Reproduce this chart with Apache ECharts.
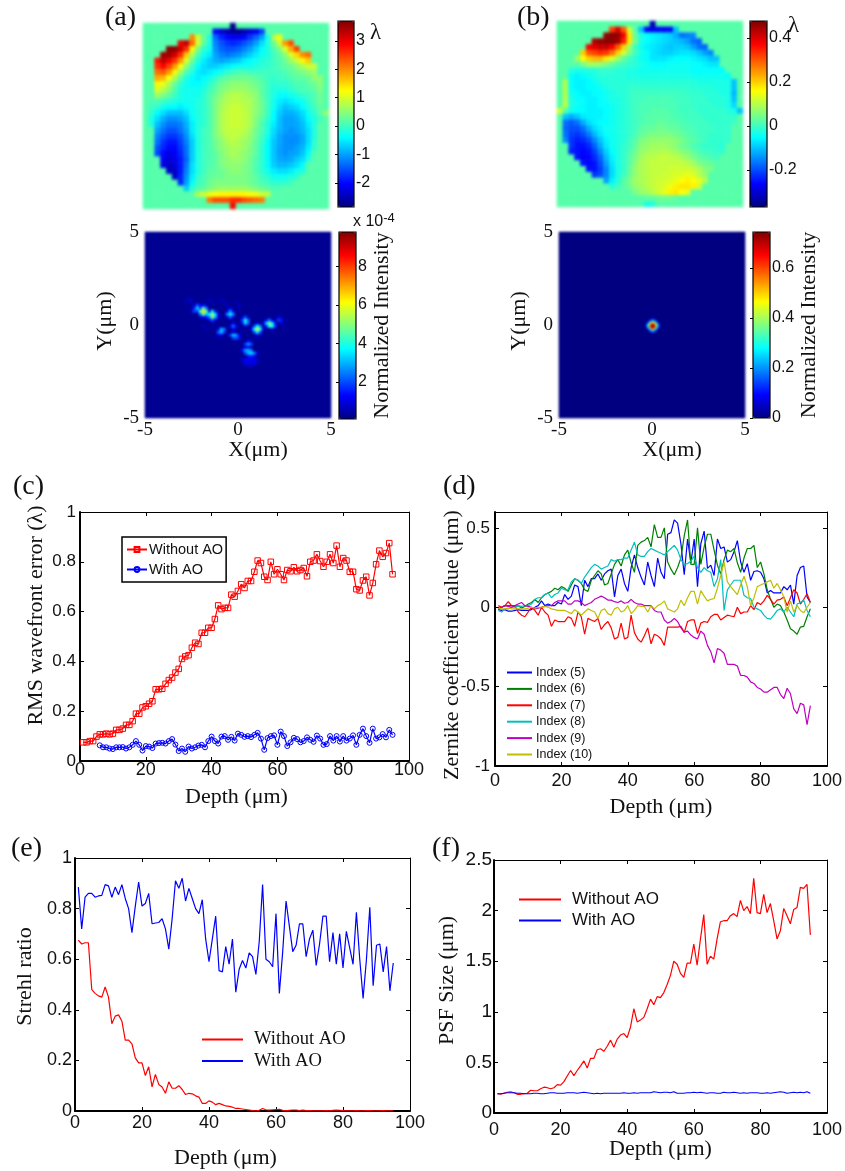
<!DOCTYPE html>
<html><head><meta charset="utf-8">
<style>html,body{margin:0;padding:0;background:#fff}#c{width:845px;height:1171px}</style>
<script src="https://cdn.jsdelivr.net/npm/echarts@6/dist/echarts.min.js"></script>
</head><body><div id="c"></div>
<script>
const depths=[1,2,3,4,5,6,7,8,9,10,11,12,13,14,15,16,17,18,19,20,21,22,23,24,25,26,27,28,29,30,31,32,33,34,35,36,37,38,39,40,41,42,43,44,45,46,47,48,49,50,51,52,53,54,55,56,57,58,59,60,61,62,63,64,65,66,67,68,69,70,71,72,73,74,75,76,77,78,79,80,81,82,83,84,85,86,87,88,89,90,91,92,93,94,95];
const depthsWithAoC=depths.slice(5);
const rmsWithout=[.075,.075,.08,.08,.098,.107,.107,.11,.107,.11,.125,.125,.13,.145,.145,.16,.19,.19,.215,.22,.23,.24,.288,.288,.29,.31,.325,.335,.355,.37,.41,.42,.425,.455,.475,.47,.515,.515,.535,.535,.57,.625,.61,.615,.615,.668,.66,.683,.71,.695,.723,.723,.76,.805,.795,.74,.727,.8,.75,.77,.75,.727,.767,.762,.778,.762,.767,.775,.742,.8,.805,.83,.803,.78,.8,.83,.795,.865,.78,.815,.805,.76,.76,.69,.685,.725,.74,.665,.715,.79,.845,.82,.835,.875,.75];
const rmsWith=[.063,.055,.055,.05,.048,.055,.055,.056,.05,.055,.065,.08,.065,.042,.06,.058,.052,.07,.072,.073,.07,.08,.088,.066,.04,.05,.037,.058,.05,.055,.062,.065,.055,.08,.098,.08,.07,.098,.1,.085,.097,.082,.11,.105,.097,.1,.096,.105,.113,.09,.045,.092,.1,.103,.065,.118,.1,.06,.075,.093,.088,.075,.08,.095,.085,.077,.102,.09,.065,.068,.1,.082,.1,.078,.1,.082,.09,.103,.065,.105,.13,.1,.073,.13,.09,.095,.108,.095,.125,.105];
const zern5=[-.015,-.02,-.015,-.025,-.025,-.02,-.015,-.02,-.02,-.02,-.015,0,.01,.04,.01,.02,.01,.01,.03,.02,.08,.05,.07,.14,.13,.01,.17,.13,.18,.18,.21,.17,.21,.23,.24,.065,.2,.24,.15,.1,.25,.33,.25,.19,.14,.285,.2,.13,.31,.22,.18,.46,.47,.55,.53,.4,.205,.43,.28,.43,.13,.4,.48,.245,.265,.2,.43,.37,.38,.285,.3,.35,.42,.285,.22,.275,.17,.225,.23,.22,.18,.09,.105,.09,.09,.09,.13,.11,.14,.02,.2,.25,.26,.065,.03];
const zern6=[-.01,0,.01,.01,.01,.005,.01,-.005,.005,.02,.03,.05,.03,.06,.08,.09,.1,.12,.11,.13,.12,.1,.14,.18,.17,.15,.11,.1,.17,.2,.23,.21,.14,.15,.21,.27,.3,.26,.33,.36,.28,.22,.39,.41,.42,.44,.38,.52,.44,.44,.5,.285,.24,.205,.25,.31,.45,.55,.27,.27,.5,.27,.38,.46,.46,.36,.265,.21,.3,.36,.35,.37,.28,.22,.31,.37,.37,.39,.25,.285,.21,.11,.05,0,.02,.01,-.03,-.08,-.135,-.15,-.17,-.125,-.12,-.06,-.01];
const zern7=[.01,0,.01,.035,.01,.01,-.03,-.05,-.06,-.03,0,-.02,-.05,0,-.03,-.05,-.12,-.08,-.09,-.09,-.09,-.06,-.07,-.12,-.03,-.06,-.17,-.07,-.08,-.09,-.07,-.14,-.11,-.09,-.13,-.2,-.19,-.1,-.2,-.19,-.05,-.16,-.2,-.22,-.18,-.13,-.23,-.17,-.18,-.2,-.24,-.125,-.125,-.125,-.125,-.12,-.16,-.09,-.08,-.08,-.165,-.1,-.09,-.095,-.06,-.045,-.045,-.08,-.065,-.05,-.055,-.06,0,-.04,-.03,-.03,.01,-.015,.03,.017,.04,.075,.05,.02,.045,.05,.065,.01,.06,.11,.09,.02,.05,.085,.03];
const zern8=[-.02,-.03,-.01,-.01,0,0,.01,.005,.01,.01,.02,.05,.06,.06,.08,.09,.06,.08,.09,.12,.11,.11,.16,.18,.17,.15,.19,.22,.25,.27,.26,.24,.25,.26,.3,.29,.3,.3,.31,.31,.36,.41,.33,.32,.32,.35,.37,.36,.35,.34,.33,.35,.37,.39,.36,.3,.27,.275,.29,.32,.25,.22,.25,.23,.22,.13,.18,.3,-.02,.11,.14,.17,.17,.17,.075,.06,.055,0,-.01,-.02,-.05,-.07,-.075,-.05,-.02,-.01,-.03,0,-.03,-.06,.02,.03,.045,-.02,-.06];
const zern9=[-.01,0,.01,.005,0,.01,.02,.03,.01,.005,0,-.01,-.005,0,.005,.01,.01,.03,.04,.04,.04,.02,.02,.04,.04,.03,.01,.02,.03,.05,.06,.07,.06,.045,.045,.035,.03,.04,.025,.03,.05,.03,.02,.02,.01,.01,.01,-.02,-.03,-.03,-.08,-.1,-.09,-.07,-.09,-.13,-.155,-.15,-.175,-.19,-.2,-.15,-.17,-.24,-.28,-.35,-.26,-.27,-.29,-.36,-.36,-.36,-.37,-.43,-.43,-.44,-.47,-.48,-.505,-.515,-.535,-.535,-.52,-.505,-.505,-.55,-.575,-.51,-.545,-.64,-.67,-.605,-.615,-.74,-.62];
const zern10=[-.005,-.01,-.01,-.005,-.01,-.01,-.01,-.01,-.01,-.005,0,-.005,0,0,.005,0,-.01,-.015,-.02,-.02,-.02,-.03,-.04,-.015,-.03,-.05,-.03,-.01,-.02,-.03,-.07,-.02,-.01,-.04,-.05,-.01,0,-.03,-.02,.01,-.04,-.02,.01,.005,.005,-.03,.01,-.01,.01,.02,.04,-.01,-.02,-.03,-.01,.045,.01,.06,.1,.1,.02,.105,.07,.04,.05,.055,.12,.2,.285,.16,.13,.105,.08,.14,.195,.13,.01,.06,.13,.14,.15,.16,.17,.12,.15,.11,.065,-.03,.04,-.03,.01,-.02,-.035,0,.03];
const strehlWithout=[.675,.66,.665,.665,.48,.465,.455,.45,.49,.45,.345,.375,.38,.355,.28,.28,.265,.21,.19,.19,.14,.175,.095,.145,.105,.095,.07,.115,.09,.09,.1,.085,.065,.07,.068,.06,.055,.03,.03,.04,.035,.025,.03,.025,.02,.018,.015,.01,.01,.008,.006,.004,.002,.001,.003,.01,.005,.004,.005,.006,.007,.003,.001,.003,.004,.004,.002,.004,.002,.002,.001,.001,.001,.001,.002,.001,.003,.004,.003,.002,.001,.001,.001,.002,.001,.001,.002,.002,.001,.001,.001,.002,.001,.001,.001];
const strehlWith=[.885,.72,.845,.86,.86,.845,.85,.852,.895,.89,.845,.885,.855,.895,.84,.8,.705,.81,.905,.81,.82,.86,.74,.743,.745,.76,.72,.64,.76,.91,.88,.92,.83,.88,.84,.8,.78,.835,.68,.59,.68,.77,.555,.55,.65,.58,.68,.47,.56,.595,.565,.625,.61,.54,.67,.895,.6,.59,.57,.78,.465,.63,.83,.73,.63,.655,.74,.74,.61,.68,.715,.575,.66,.77,.77,.59,.705,.58,.7,.565,.71,.645,.58,.785,.6,.445,.6,.805,.495,.655,.66,.55,.65,.475,.585];
const psfWithout=[.19,.185,.195,.205,.21,.2,.185,.185,.19,.195,.225,.22,.22,.24,.255,.25,.24,.25,.28,.275,.31,.365,.42,.37,.42,.465,.515,.445,.54,.54,.625,.635,.61,.66,.72,.65,.73,.77,.785,.745,.85,1.03,.9,.92,.945,1.03,1.125,1.07,1.15,1.14,1.19,1.27,1.36,1.5,1.47,1.38,1.34,1.48,1.48,1.67,1.46,1.72,1.96,1.47,1.55,1.52,1.72,1.89,1.9,1.9,1.95,1.97,1.94,2.1,2,2.04,1.97,2.32,1.98,1.97,2.16,1.98,2.07,1.9,1.72,1.8,2.02,1.95,1.87,2.01,2.03,2.23,2.22,2.26,1.76];
const psfWith=[.19,.19,.195,.2,.2,.2,.195,.195,.19,.19,.19,.195,.195,.19,.19,.195,.2,.2,.195,.195,.195,.2,.2,.2,.195,.2,.205,.2,.195,.19,.195,.19,.195,.195,.195,.195,.195,.195,.2,.195,.195,.2,.195,.2,.2,.2,.2,.21,.205,.2,.205,.205,.2,.21,.195,.195,.195,.2,.2,.205,.2,.205,.2,.195,.2,.2,.195,.195,.205,.2,.2,.205,.2,.195,.2,.195,.2,.2,.2,.195,.195,.2,.195,.2,.205,.21,.205,.195,.2,.205,.2,.205,.2,.21,.195];

// Wavefront maps: each row is [first column, values]; cells not listed are the flat surround.
const waveABackground=.15;
const waveARows=[
[15,[-2.8]],
[12,[-2,-2.3,-2.5,-2.7,-2.7,-2.5,-2.3,-2.1,-1.6]],
[8,[2,.9,.3,-.2,-1.4,-1.8,-2,-2.1,-2.1,-2,-1.7,-1.4,-1,-.3,.7,1.2]],
[6,[3,3.3,2.2,1,.2,-.2,-1.2,-1.5,-1.7,-1.8,-1.7,-1.5,-1.3,-1,-.6,-.2,.3,.9,1.9,2.4]],
[4,[3.6,3.6,3.2,2.6,1.3,.4,-.1,-.3,-1.1,-1.4,-1.5,-1.5,-1.4,-1.2,-1,-.7,-.4,-.2,.1,.4,1,1.8,2.5]],
[3,[3.5,3.5,3.2,2.6,1.6,.7,.1,-.3,-.5,-1,-1.2,-1.3,-1.2,-1.1,-.9,-.7,-.5,-.3,-.2,0,.2,.5,1,1.5,2,2.2]],
[2,[2.8,3.3,3,2.6,1.9,1,.3,-.2,-.5,-.7,-.9,-1,-.9,-.8,-.7,-.5,-.4,-.3,-.2,-.1,0,.1,.3,.6,.9,1.3,1.6]],
[2,[2.6,2.9,2.5,1.9,1.2,.5,0,-.4,-.6,-.7,-.7,-.6,-.5,-.4,-.3,-.3,-.3,-.2,-.1,-.1,0,.1,.2,.3,.5,.7,.9,.9]],
[2,[2.2,2.3,1.9,1.3,.6,.1,-.2,-.5,-.6,-.5,-.4,-.3,-.1,0,.1,.1,0,0,0,0,0,0,.1,.2,.3,.4,.5,.6]],
[2,[1.8,1.7,1.2,.7,.2,-.2,-.4,-.5,-.4,-.3,-.1,.1,.2,.3,.3,.3,.3,.2,.1,0,-.1,0,0,.1,.2,.2,.3,.5,.5]],
[2,[1.3,1.1,.7,.3,-.1,-.3,-.4,-.4,-.3,-.1,.1,.3,.4,.5,.5,.5,.4,.3,.2,0,-.1,-.1,-.1,0,.1,.1,.2,.3,.5]],
[2,[1,.8,.5,.1,-.2,-.3,-.3,-.3,-.2,0,.2,.4,.5,.6,.6,.6,.5,.4,.2,0,-.2,-.2,-.2,-.1,0,.1,.1,.2,.4]],
[2,[.6,.4,.2,0,-.2,-.3,-.3,-.3,-.1,.1,.3,.5,.7,.8,.8,.7,.6,.5,.2,0,-.2,-.4,-.4,-.3,-.2,-.1,0,.1,.3]],
[1,[.1,.1,0,-.1,-.2,-.3,-.3,-.3,-.2,-.1,.1,.4,.6,.75,.8,.8,.75,.7,.5,.3,0,-.3,-.5,-.6,-.5,-.4,-.3,-.1,.1,.3]],
[1,[0,-.1,-.3,-.4,-.4,-.5,-.4,-.3,-.2,-.1,.1,.4,.65,.8,.9,.9,.8,.7,.5,.3,0,-.3,-.6,-.8,-.7,-.6,-.4,-.2,0,.2]],
[1,[-.1,-.4,-.6,-.8,-.8,-.8,-.6,-.3,-.2,-.1,.1,.4,.7,.85,.9,.9,.85,.7,.5,.3,0,-.4,-.7,-.9,-.9,-.8,-.6,-.3,-.1,.2,.5]],
[1,[-.2,-.6,-.9,-1.1,-1.1,-1,-.8,-.4,-.2,-.1,.1,.4,.7,.85,.9,.9,.85,.7,.4,.2,-.1,-.4,-.8,-1,-1,-.9,-.7,-.4,-.2,0]],
[1,[-.2,-.8,-1.1,-1.3,-1.3,-1.2,-.9,-.5,-.2,-.1,.1,.4,.7,.85,.9,.9,.85,.7,.4,.1,-.2,-.5,-.8,-1,-1,-.95,-.8,-.5,-.2]],
[2,[-1,-1.3,-1.5,-1.5,-1.3,-1,-.5,-.2,0,.1,.4,.7,.85,.85,.85,.8,.6,.3,.1,-.2,-.6,-.85,-1,-1.1,-1,-.85,-.6,-.2]],
[2,[-1.2,-1.5,-1.7,-1.7,-1.5,-1.1,-.6,-.2,0,.1,.4,.6,.8,.85,.8,.7,.5,.3,0,-.3,-.65,-.95,-1.1,-1.1,-1.1,-.95,-.6,-.2]],
[2,[-1.3,-1.7,-1.9,-1.9,-1.6,-1.2,-.7,-.2,0,.1,.3,.5,.7,.8,.7,.6,.5,.2,0,-.4,-.75,-.95,-1.1,-1.15,-1.1,-.95,-.6,-.1]],
[2,[-1.5,-1.8,-2,-2,-1.7,-1.3,-.7,-.2,0,.1,.3,.5,.6,.7,.7,.6,.4,.2,-.1,-.4,-.75,-1,-1.1,-1.1,-1,-.85,-.5,-.1]],
[2,[-1.6,-2,-2.2,-2.1,-1.8,-1.3,-.7,-.2,0,.1,.2,.4,.6,.7,.6,.5,.4,.2,-.1,-.4,-.75,-1,-1.1,-1,-.95,-.75,-.4]],
[3,[-2.1,-2.3,-2.2,-1.9,-1.4,-.7,-.2,0,.1,.2,.4,.5,.6,.6,.5,.3,.1,-.1,-.4,-.75,-.95,-1,-.95,-.75,-.6,-.2]],
[3,[-2.2,-2.4,-2.3,-1.9,-1.3,-.6,-.2,0,.1,.2,.4,.5,.5,.5,.4,.3,.1,-.1,-.4,-.7,-.85,-.85,-.75,-.6,-.4]],
[4,[-2.4,-2.4,-1.9,-1.2,-.6,-.2,0,.2,.2,.3,.4,.5,.5,.4,.3,.1,-.1,-.3,-.5,-.6,-.6,-.5,-.3,-.2]],
[5,[-2.4,-1.8,-1.1,-.5,-.1,.1,.2,.3,.3,.4,.4,.4,.4,.3,.2,0,-.1,-.3,-.3,-.3,-.2,-.1]],
[6,[-1.8,-1,-.4,0,.1,.3,.4,.4,.4,.4,.4,.4,.3,.2,.1,0,-.1,-.1,-.1,0]],
[7,[-.7,-.1,.1,.2,.4,.5,.6,.6,.6,.6,.6,.5,.4,.3,.2,.1,.1]],
[9,[.7,.9,1.1,1.2,1.3,1.3,1.3,1.3,1.3,1.2,1.1,.9,.8]],
[11,[2.1,2.4,2.4,2.4,2.6,2.6,2.4,2.3,2.2,2.1]],
[15,[2.9]]
];
const waveBBackground=.02;
const waveBRows=[
[16,[-.33]],
[9,[.32,.4,.3,.12,.02,-.1,-.26,-.28,-.27,-.27,-.26,-.1]],
[8,[.46,.47,.46,.38,.18,.03,-.03,-.05,-.06,-.07,-.08,-.09,-.12,-.17,-.16,-.15]],
[6,[.44,.46,.47,.47,.45,.35,.18,.04,-.03,-.05,-.06,-.07,-.08,-.09,-.1,-.11,-.13,-.17,-.18]],
[5,[.38,.4,.42,.42,.38,.3,.2,.08,0,-.04,-.06,-.07,-.08,-.09,-.1,-.09,-.09,-.1,-.13,-.17,-.18]],
[4,[.2,.3,.32,.34,.33,.28,.2,.12,.05,0,-.03,-.05,-.07,-.08,-.09,-.09,-.08,-.07,-.07,-.08,-.1,-.13,-.15]],
[3,[.08,.15,.2,.22,.22,.18,.13,.08,.03,0,-.02,-.04,-.05,-.07,-.07,-.07,-.06,-.05,-.05,-.05,-.06,-.07,-.08,-.1,-.1]],
[3,[.02,.05,.08,.08,.07,.05,.03,.01,0,-.01,-.02,-.03,-.04,-.05,-.05,-.05,-.04,-.04,-.04,-.04,-.05,-.05,-.06,-.07,-.07]],
[2,[-.02,-.03,-.03,-.02,-.02,-.01,-.01,-.01,-.02,-.02,-.03,-.03,-.04,-.04,-.04,-.04,-.04,-.04,-.04,-.04,-.04,-.05,-.05,-.05,-.05,-.05,-.05]],
[2,[-.05,-.06,-.05,-.04,-.03,-.02,-.02,-.02,-.02,-.02,-.03,-.03,-.03,-.03,-.03,-.03,-.03,-.03,-.03,-.03,-.03,-.04,-.04,-.04,-.04,-.04,-.04,-.05]],
[1,[.09,-.05,-.06,-.06,-.05,-.04,-.03,-.02,-.02,-.02,-.02,-.02,-.02,-.02,-.02,-.02,-.02,-.02,-.02,-.02,-.02,-.02,-.02,-.03,-.03,-.03,-.03,-.03,-.03,-.1]],
[1,[.09,-.05,-.06,-.06,-.05,-.05,-.04,-.03,-.02,-.02,-.02,-.01,-.01,-.01,-.01,-.01,-.01,-.01,-.01,-.01,-.01,-.01,-.02,-.02,-.02,-.02,-.03,-.03,-.03,-.1]],
[1,[.09,-.04,-.05,-.06,-.06,-.05,-.05,-.04,-.03,-.02,-.02,-.01,0,0,0,0,0,0,0,0,0,-.01,-.01,-.01,-.02,-.02,-.02,-.03,-.03,-.11]],
[1,[.09,-.03,-.05,-.05,-.06,-.06,-.05,-.04,-.03,-.03,-.02,-.01,0,0,.01,.01,.01,.01,.01,0,0,0,-.01,-.01,-.01,-.02,-.02,-.02,-.03,-.1]],
[0,[.02,.1,-.03,-.04,-.05,-.06,-.06,-.05,-.05,-.04,-.03,-.02,-.01,0,.01,.01,.01,.01,.01,.01,.01,0,0,-.01,-.01,-.01,-.01,-.02,-.02,-.03,-.08]],
[0,[.12,.02,-.04,-.05,-.05,-.06,-.06,-.06,-.05,-.04,-.03,-.02,-.01,0,.01,.01,.02,.02,.02,.01,.01,0,0,0,-.01,-.01,-.01,-.01,-.01,-.02,-.03,-.1]],
[1,[-.1,-.12,-.1,-.07,-.06,-.06,-.06,-.05,-.04,-.03,-.02,-.01,0,.01,.02,.02,.02,.02,.02,.01,.01,0,0,0,-.01,-.01,-.01,-.01,-.01,-.01]],
[1,[-.17,-.19,-.17,-.12,-.08,-.06,-.05,-.05,-.04,-.03,-.02,-.01,0,.01,.02,.02,.03,.03,.02,.02,.01,.01,0,0,0,-.01,-.01,-.01,-.01,0]],
[1,[-.18,-.2,-.2,-.17,-.12,-.08,-.06,-.04,-.04,-.03,-.02,-.01,0,.02,.03,.03,.04,.04,.03,.03,.02,.01,.01,0,0,0,-.01,-.01,-.01]],
[1,[-.17,-.21,-.22,-.2,-.16,-.11,-.07,-.05,-.04,-.03,-.02,-.01,.01,.03,.04,.05,.05,.05,.05,.04,.03,.02,.01,0,0,-.01,-.01,-.01,-.01]],
[1,[-.15,-.22,-.24,-.23,-.2,-.15,-.1,-.06,-.04,-.03,-.02,0,.02,.05,.06,.07,.07,.07,.07,.06,.05,.03,.02,.01,0,-.01,-.01,-.01,-.01]],
[2,[-.22,-.25,-.25,-.23,-.18,-.12,-.07,-.04,-.03,-.01,0,.03,.06,.07,.08,.08,.08,.07,.06,.04,.03,.01,0,-.01,-.01,-.01,-.02]],
[2,[-.24,-.25,-.26,-.25,-.21,-.15,-.09,-.05,-.03,-.01,.01,.04,.07,.08,.09,.09,.1,.09,.08,.06,.05,.03,.01,0,0,-.01,-.01]],
[3,[-.25,-.27,-.26,-.23,-.18,-.11,-.06,-.03,-.01,.02,.05,.08,.1,.1,.11,.11,.11,.1,.09,.07,.05,.03,.02,.01,0]],
[4,[-.25,-.26,-.25,-.2,-.13,-.07,-.03,-.01,.02,.06,.09,.1,.11,.11,.11,.11,.11,.11,.1,.08,.05,.04,.03]],
[5,[-.25,-.25,-.21,-.15,-.08,-.03,-.01,.03,.07,.09,.1,.11,.11,.11,.12,.12,.12,.12,.11,.09,.06,.05]],
[6,[-.22,-.2,-.15,-.08,-.03,0,.03,.07,.09,.1,.11,.11,.12,.12,.13,.13,.14,.13,.1,.07]],
[8,[-.13,-.06,-.02,.02,.05,.08,.09,.1,.11,.12,.12,.13,.14,.16,.17,.16,.14,.1]],
[9,[-.02,0,.02,.04,.07,.08,.1,.11,.12,.13,.15,.17,.18,.18,.17,.12]],
[13,[.05,.07,.08,.1,.12,.14,.17,.18,.16,.14]],
[15,[.03,.03,.04,.04,.04,.03]],
[15,[-.03,-.02]]
];
// Intensity maps: [column, row from top, value]; all other cells hold the background level.
const psfABackground=.25;
const psfACells=[[19,26,6.4],[18,25,2],[19,25,4.5],[20,25,2.5],[18,26,4.5],[20,26,4.8],[18,27,2.5],[19,27,4.8],[20,27,3.2],[19,24,1.2],[20,24,.8],[18,28,.8],[19,28,1.4],[20,28,1.4],
[21,26,1.5],[22,26,3.4],[23,26,1.5],[21,27,3.6],[22,27,5.2],[23,27,3.6],[21,28,2.4],[22,28,5],[23,28,3],[22,29,2],[21,29,1],[23,29,1.2],[24,27,1],[24,28,1],
[16,25,1.6],[17,24,2],[17,25,3.4],[16,26,2],[18,24,1.2],[17,26,1.8],[16,24,.8],[15,26,.8],
[27,26,1.2],[28,26,2.6],[29,26,1.2],[27,27,2.6],[28,27,3.8],[29,27,2.6],[27,28,1],[28,28,2.2],[29,28,1],[28,25,1],
[32,29,1.8],[33,29,4],[34,29,2.2],[32,28,.8],[33,28,2],[34,28,.8],[33,30,3.4],[34,30,2.2],[32,30,1.4],[33,31,1],
[36,31,2],[37,31,3.8],[38,31,2.5],[36,32,3.8],[37,32,5.8],[38,32,4.2],[36,33,2],[37,33,3.6],[38,33,2],[35,32,1.2],[39,32,1.2],[37,30,1],[37,34,1.2],
[40,29,1.4],[41,29,2.4],[42,29,1.2],[40,30,3.2],[41,30,5],[42,30,3.6],[41,31,3.8],[42,31,4.2],[43,31,1.8],[40,31,1.6],[39,30,1],[43,30,1.4],[42,32,1.2],
[44,29,1.8],[45,29,1.5],[44,28,1],[45,30,1],[45,28,.7],
[24,33,2.2],[25,33,3.2],[26,33,1.8],[25,32,3],[26,32,2.4],[24,32,1.2],[25,34,1.2],[24,34,.8],
[28,31,1.2],[29,31,2.4],[30,31,1.2],[29,30,1.2],[29,32,1.2],
[28,34,1.8],[29,34,3.2],[30,34,2.8],[31,35,1.4],[29,35,1.8],[30,35,2],[31,34,1.2],[29,33,1],
[33,37,1.8],[34,37,2.8],[35,37,2],[34,36,1.4],[34,38,1.3],[35,36,.8],
[32,39,1.4],[33,39,2.8],[34,39,3],[35,39,2.4],[33,40,2],[34,40,3],[35,40,3.4],[36,40,2.6],[34,41,1.4],[35,41,1.6],[33,38,1],[37,40,1],[36,41,1],
[32,42,.7],[33,42,1],[34,42,1.1],[35,42,1.2],[36,42,1.1],[37,42,.8],[32,43,.7],[33,43,1],[34,43,1.1],[35,43,1.1],[36,43,1],[37,43,.7],[33,44,.7],[34,44,.8],[35,44,.8],[36,44,.7],
[14,22,.7],[15,23,.8],[15,22,.7],[21,22,.7],[22,23,.7],[25,22,.7],[26,23,.8],[27,24,.7],[30,23,.7],[31,24,.7],[19,31,.7],[20,32,.6],[38,34,.6],[13,23,.6],[24,23,.6],[31,25,.6],[46,31,.6],[47,29,.6],[22,31,.6],[32,33,.6]];
const psfBBackground=0;
const psfBCells=[[46,47,.74],[47,47,.74],[46,46,.7],[47,46,.7],[45,47,.58],[48,47,.56],[46,48,.58],[47,48,.56],[45,46,.52],[48,46,.5],[46,45,.52],[47,45,.5],[45,45,.3],[48,45,.3],[45,48,.3],[48,48,.3],[44,47,.26],[49,47,.24],[44,46,.26],[49,46,.24],[46,49,.26],[47,49,.24],[46,44,.22],[47,44,.22],[44,45,.12],[49,45,.12],[44,48,.12],[49,48,.12],[45,44,.12],[48,44,.12],[45,49,.12],[48,49,.12],[43,47,.05],[50,47,.05],[43,46,.05],[50,46,.05],[46,43,.05],[47,43,.05],[46,50,.05],[47,50,.05]];

const lambdaTicksA=[-2,-1,0,1,2,3];
const lambdaTicksB=[-.2,0,.2,.4];
const intensityTicksA=[2,4,6,8];
const intensityTicksB=[0,.2,.4,.6];
const zernikeTicks=[-1,-.5,0,.5];
const jet=['#000080','#0000ff','#0080ff','#00ffff','#80ff80','#ffff00','#ff8000','#ff0000','#800000'];

const SERIF='"Liberation Serif"',SANS='"Liberation Sans"';
const option={animation:false,backgroundColor:'#fff',grid:[],xAxis:[],yAxis:[],series:[],visualMap:[],legend:[],graphic:[]};
const R=(l,t,w,h)=>({left:l,top:t,width:w,height:h});

function rowsToCells(rows,bg,n){
  const out=[];
  for(let r=0;r<n;r++)for(let c=0;c<n;c++){
    const row=rows[r];let v=bg;
    if(row){const k=c-row[0];if(k>=0&&k<row[1].length)v=row[1][k];}
    out.push([c,r,v]);
  }
  return out;
}
function sparseToCells(cells,bg,n){
  const m=new Map(cells.map(a=>[a[0]+'_'+a[1],a[2]]));
  const out=[];
  for(let r=0;r<n;r++)for(let c=0;c<n;c++){
    const k=c+'_'+r;out.push([c,r,m.has(k)?m.get(k):bg]);
  }
  return out;
}
function heatPanel(rect,data,n,layer,axes){
  const g=option.grid.length;
  option.grid.push({...rect,show:false,containLabel:false});
  const idx=Array.from({length:n},(_,i)=>i);
  const xi=option.xAxis.length,yi=option.yAxis.length;
  option.xAxis.push({gridIndex:g,type:'category',data:idx,show:false});
  option.yAxis.push({gridIndex:g,type:'category',data:idx,inverse:true,show:false});
  const si=option.series.length;
  option.series.push({type:'heatmap',xAxisIndex:xi,yAxisIndex:yi,data,progressive:0,silent:true,zlevel:layer,itemStyle:{borderWidth:0}});
  if(axes){
    option.xAxis.push({gridIndex:g,type:'value',position:'bottom',min:-5,max:5,interval:5,z:5,
      axisLine:{show:false},axisTick:{show:false},splitLine:{show:false},
      axisLabel:{fontFamily:SERIF,fontSize:19,color:'#111',margin:3,hideOverlap:false},
      name:'X(μm)',nameLocation:'middle',nameGap:21,nameMoveOverlap:false,nameTextStyle:{fontFamily:SERIF,fontSize:22,color:'#111',padding:[0,0,0,40]}});
    option.yAxis.push({gridIndex:g,type:'value',position:'left',min:-5,max:5,interval:5,z:5,
      axisLine:{show:false},axisTick:{show:false},splitLine:{show:false},
      axisLabel:{fontFamily:SERIF,fontSize:19,color:'#111',margin:6,hideOverlap:false},
      name:'Y(μm)',nameLocation:'middle',nameGap:axes.yGap,nameMoveOverlap:false,nameTextStyle:{fontFamily:SERIF,fontSize:22,color:'#111',padding:[0,0,0,8]}});
  }
  return si;
}
function colorBar(rect,si,min,max,ticks,name,nameGap){
  option.visualMap.push({type:'continuous',seriesIndex:si,min,max,inRange:{color:jet},calculable:false,hoverLink:false,realtime:false,
    left:rect.left,top:rect.top,itemWidth:rect.width,itemHeight:rect.height,padding:0,z:1,text:null,showLabel:false});
  const g=option.grid.length;
  option.grid.push({...rect,show:true,backgroundColor:'transparent',borderColor:'#000',borderWidth:1.2,z:5});
  option.xAxis.push({gridIndex:g,type:'value',min:0,max:1,show:false});
  option.yAxis.push({gridIndex:g,type:'value',position:'right',min,max,z:6,
    axisLine:{show:false},splitLine:{show:false},
    axisTick:{show:true,inside:true,length:3,customValues:ticks,lineStyle:{color:'#000'}},
    axisLabel:{customValues:ticks,fontFamily:SANS,fontSize:16,color:'#111',margin:2,hideOverlap:false,
      formatter:v=>String(+(+v).toFixed(2))},
    name:name||'',nameLocation:'middle',nameRotate:90,nameGap:nameGap||24,nameMoveOverlap:false,
    nameTextStyle:{fontFamily:SERIF,fontSize:22,color:'#111'}});
}
function linePanel(o){
  const g=option.grid.length;
  option.grid.push({...o.rect,show:false});
  const xi=option.xAxis.length,yi=option.yAxis.length;
  const tick={show:true,inside:true,length:4,lineStyle:{color:'#000',width:1}};
  option.xAxis.push({gridIndex:g,type:'value',position:'bottom',min:0,max:100,interval:20,z:5,
    axisLine:{show:true,onZero:false,lineStyle:{color:'#000',width:2}},axisTick:tick,splitLine:{show:false},
    axisLabel:{fontFamily:SANS,fontSize:18,color:'#111',margin:o.xMargin,hideOverlap:false},
    name:'Depth (μm)',nameLocation:'middle',nameGap:o.xGap,nameMoveOverlap:false,
    nameTextStyle:{fontFamily:SERIF,fontSize:22,color:'#111',padding:o.xPad||0}});
  const yBase={gridIndex:g,type:'value',min:o.yMin,max:o.yMax,z:5,splitLine:{show:false}};
  const yTick=o.yTicks?{...tick,customValues:o.yTicks}:tick;
  if(!o.yTicks)yBase.interval=o.yInt;
  option.yAxis.push({...yBase,position:'left',
    axisLine:{show:true,onZero:false,lineStyle:{color:'#000',width:2}},axisTick:yTick,
    axisLabel:{fontFamily:SANS,fontSize:o.yFont,color:'#111',margin:o.yMargin,hideOverlap:false,customValues:o.yTicks||undefined},
    name:o.yName,nameLocation:'middle',nameGap:o.yGap,nameMoveOverlap:false,
    nameTextStyle:{fontFamily:SERIF,fontSize:22,color:'#111',padding:o.yPad||0}});
  option.xAxis.push({gridIndex:g,type:'value',position:'top',min:0,max:100,interval:20,z:5,
    axisLine:{show:true,onZero:false,lineStyle:{color:'#000',width:1}},axisTick:tick,axisLabel:{show:false},splitLine:{show:false}});
  option.yAxis.push({...yBase,position:'right',
    axisLine:{show:true,onZero:false,lineStyle:{color:'#000',width:1}},axisTick:yTick,axisLabel:{show:false}});
  const names=o.series.map(s=>o.key+'|'+s.name);
  o.series.forEach((s,k)=>{
    const xs=s.x||depths;
    const base={type:'line',name:names[k],xAxisIndex:xi,yAxisIndex:yi,silent:true,z:6,
      data:xs.map((d,i)=>[d,s.y[i]]),lineStyle:{color:s.color,width:s.w||1.2},itemStyle:{color:s.color}};
    if(s.marker){
      base.symbol=s.marker;base.symbolSize=s.size;base.showSymbol=true;
      base.itemStyle={color:'rgba(255,255,255,0)',borderColor:s.color,borderWidth:1};
    }else{base.symbol='none';}
    option.series.push(base);
  });
  const legendData=names.map((n,k)=>o.series[k].marker?n:{name:n,itemStyle:{color:o.series[k].color,borderWidth:0}});
  option.legend.push({...o.legend,data:legendData,selectedMode:false,formatter:n=>n.split('|')[1],
    textStyle:o.legendText,orient:'vertical'});
}
function label(text,left,top,font,extra){
  option.graphic.push({type:'text',left,top,silent:true,style:{text,font,fill:'#111',...extra}});
}

// wavefronts and intensity maps
let s;
s=heatPanel(R(143,23,186,186),rowsToCells(waveARows,waveABackground,32),32,1);
colorBar(R(338,21,16,186),s,-2.85,3.7,lambdaTicksA);
s=heatPanel(R(557,21,186,186),rowsToCells(waveBRows,waveBBackground,32),32,1);
colorBar(R(750,21,17,186),s,-.368,.477,lambdaTicksB);
s=heatPanel(R(145,232,186,186),sparseToCells(psfACells,psfABackground,62),62,2,{yGap:29});
colorBar(R(339,232,17,187),s,.07,9.8,intensityTicksA,'Normalized Intensity',15);
s=heatPanel(R(559,232,186,186),sparseToCells(psfBCells,psfBBackground,93),93,2,{yGap:29});
colorBar(R(753,232,17,186),s,0,.744,intensityTicksB,'Normalized Intensity',28);

const RED='#ff0000',BLUE='#0000ff';
linePanel({key:'c',rect:R(80,512,329,249),yMin:0,yMax:1,yInt:.2,yFont:17,yMargin:4,xMargin:0,xGap:25,yGap:33,yName:'RMS wavefront error (λ)',yPad:[0,0,0,42],xPad:[0,16,0,0],
  series:[{name:'Without AO',y:rmsWithout,color:RED,marker:'rect',size:5.5},{name:'With AO',x:depthsWithAoC,y:rmsWith,color:BLUE,marker:'circle',size:5}],
  legend:{left:122,top:537,padding:[5,3,5,4],itemWidth:20,itemHeight:6,itemGap:5,backgroundColor:'#fff',borderColor:'#000',borderWidth:1.5,z:8},legendText:{fontFamily:SANS,fontSize:14.5,color:'#111',padding:[0,0,0,-3]}});
linePanel({key:'d',rect:R(495,512,334,254),yMin:-1,yMax:.6,yTicks:zernikeTicks,yFont:17,yMargin:5,xMargin:6,xGap:30,yGap:32,yName:'Zernike coefficient value (μm)',yPad:[0,12,0,0],
  series:[{name:'Index (5)',y:zern5,color:'#0000ff'},{name:'Index (6)',y:zern6,color:'#008000'},{name:'Index (7)',y:zern7,color:'#ff0000'},{name:'Index (8)',y:zern8,color:'#00bfbf'},{name:'Index (9)',y:zern9,color:'#bf00bf'},{name:'Index (10)',y:zern10,color:'#bfbf00'}],
  legend:{left:507,top:666,padding:0,icon:'rect',itemWidth:25,itemHeight:2,itemGap:3.4},legendText:{fontFamily:SANS,fontSize:12.5,color:'#111',padding:[0,0,0,-1]}});
linePanel({key:'e',rect:R(75,858,335,253),yMin:0,yMax:1,yInt:.2,yFont:18,yMargin:3,xMargin:3,xGap:36,yGap:39,yName:'Strehl ratio',yPad:[0,0,0,16],xPad:[0,34,0,0],
  series:[{name:'Without AO',y:strehlWithout,color:RED},{name:'With AO',y:strehlWith,color:BLUE}],
  legend:{left:202,top:1030,padding:0,icon:'rect',itemWidth:41,itemHeight:2,itemGap:2.5},legendText:{fontFamily:SERIF,fontSize:18.6,color:'#111',padding:[0,0,8,6]}});
linePanel({key:'f',rect:R(494,860,335,253),yMin:0,yMax:2.5,yInt:.5,yFont:19,yMargin:2,xMargin:8,xGap:25,yGap:36,yName:'PSF Size (μm)',yPad:[0,0,0,12],xPad:0,
  series:[{name:'Without AO',y:psfWithout,color:RED},{name:'With AO',y:psfWith,color:BLUE}],
  legend:{left:519,top:891,padding:0,icon:'rect',itemWidth:42,itemHeight:2,itemGap:4},legendText:{fontFamily:SANS,fontSize:17,color:'#111',padding:[0,0,12,6]}});

const PANEL='28px '+SERIF;
label('(a)',105,4,PANEL);label('(b)',517,4,PANEL);
label('(c)',13,473,PANEL);label('(d)',443,473,PANEL);
label('(e)',11,835,PANEL);label('(f)',432,835,PANEL);
label('λ',370,21,'23px '+SERIF);label('λ',788,14,'23px '+SERIF);
option.graphic.push({type:'text',left:353,top:212,silent:true,style:{text:'x 10{s|-4}',font:'16px '+SANS,fill:'#111',rich:{s:{font:'13px '+SANS,fill:'#111',verticalAlign:'bottom',padding:[0,0,6,0]}}}});

const chart=echarts.init(document.getElementById('c'),null,{renderer:'canvas'});
chart.setOption(option);
// soften the heat layers the way the resampled bitmaps in the reference look
chart.on('finished',soften);soften();
function soften(){
  const layers=chart.getDom().querySelectorAll('canvas');
  if(layers[1])layers[1].style.filter='blur(1.7px)';
  if(layers[2])layers[2].style.filter='blur(.8px)';
}
</script></body></html>
